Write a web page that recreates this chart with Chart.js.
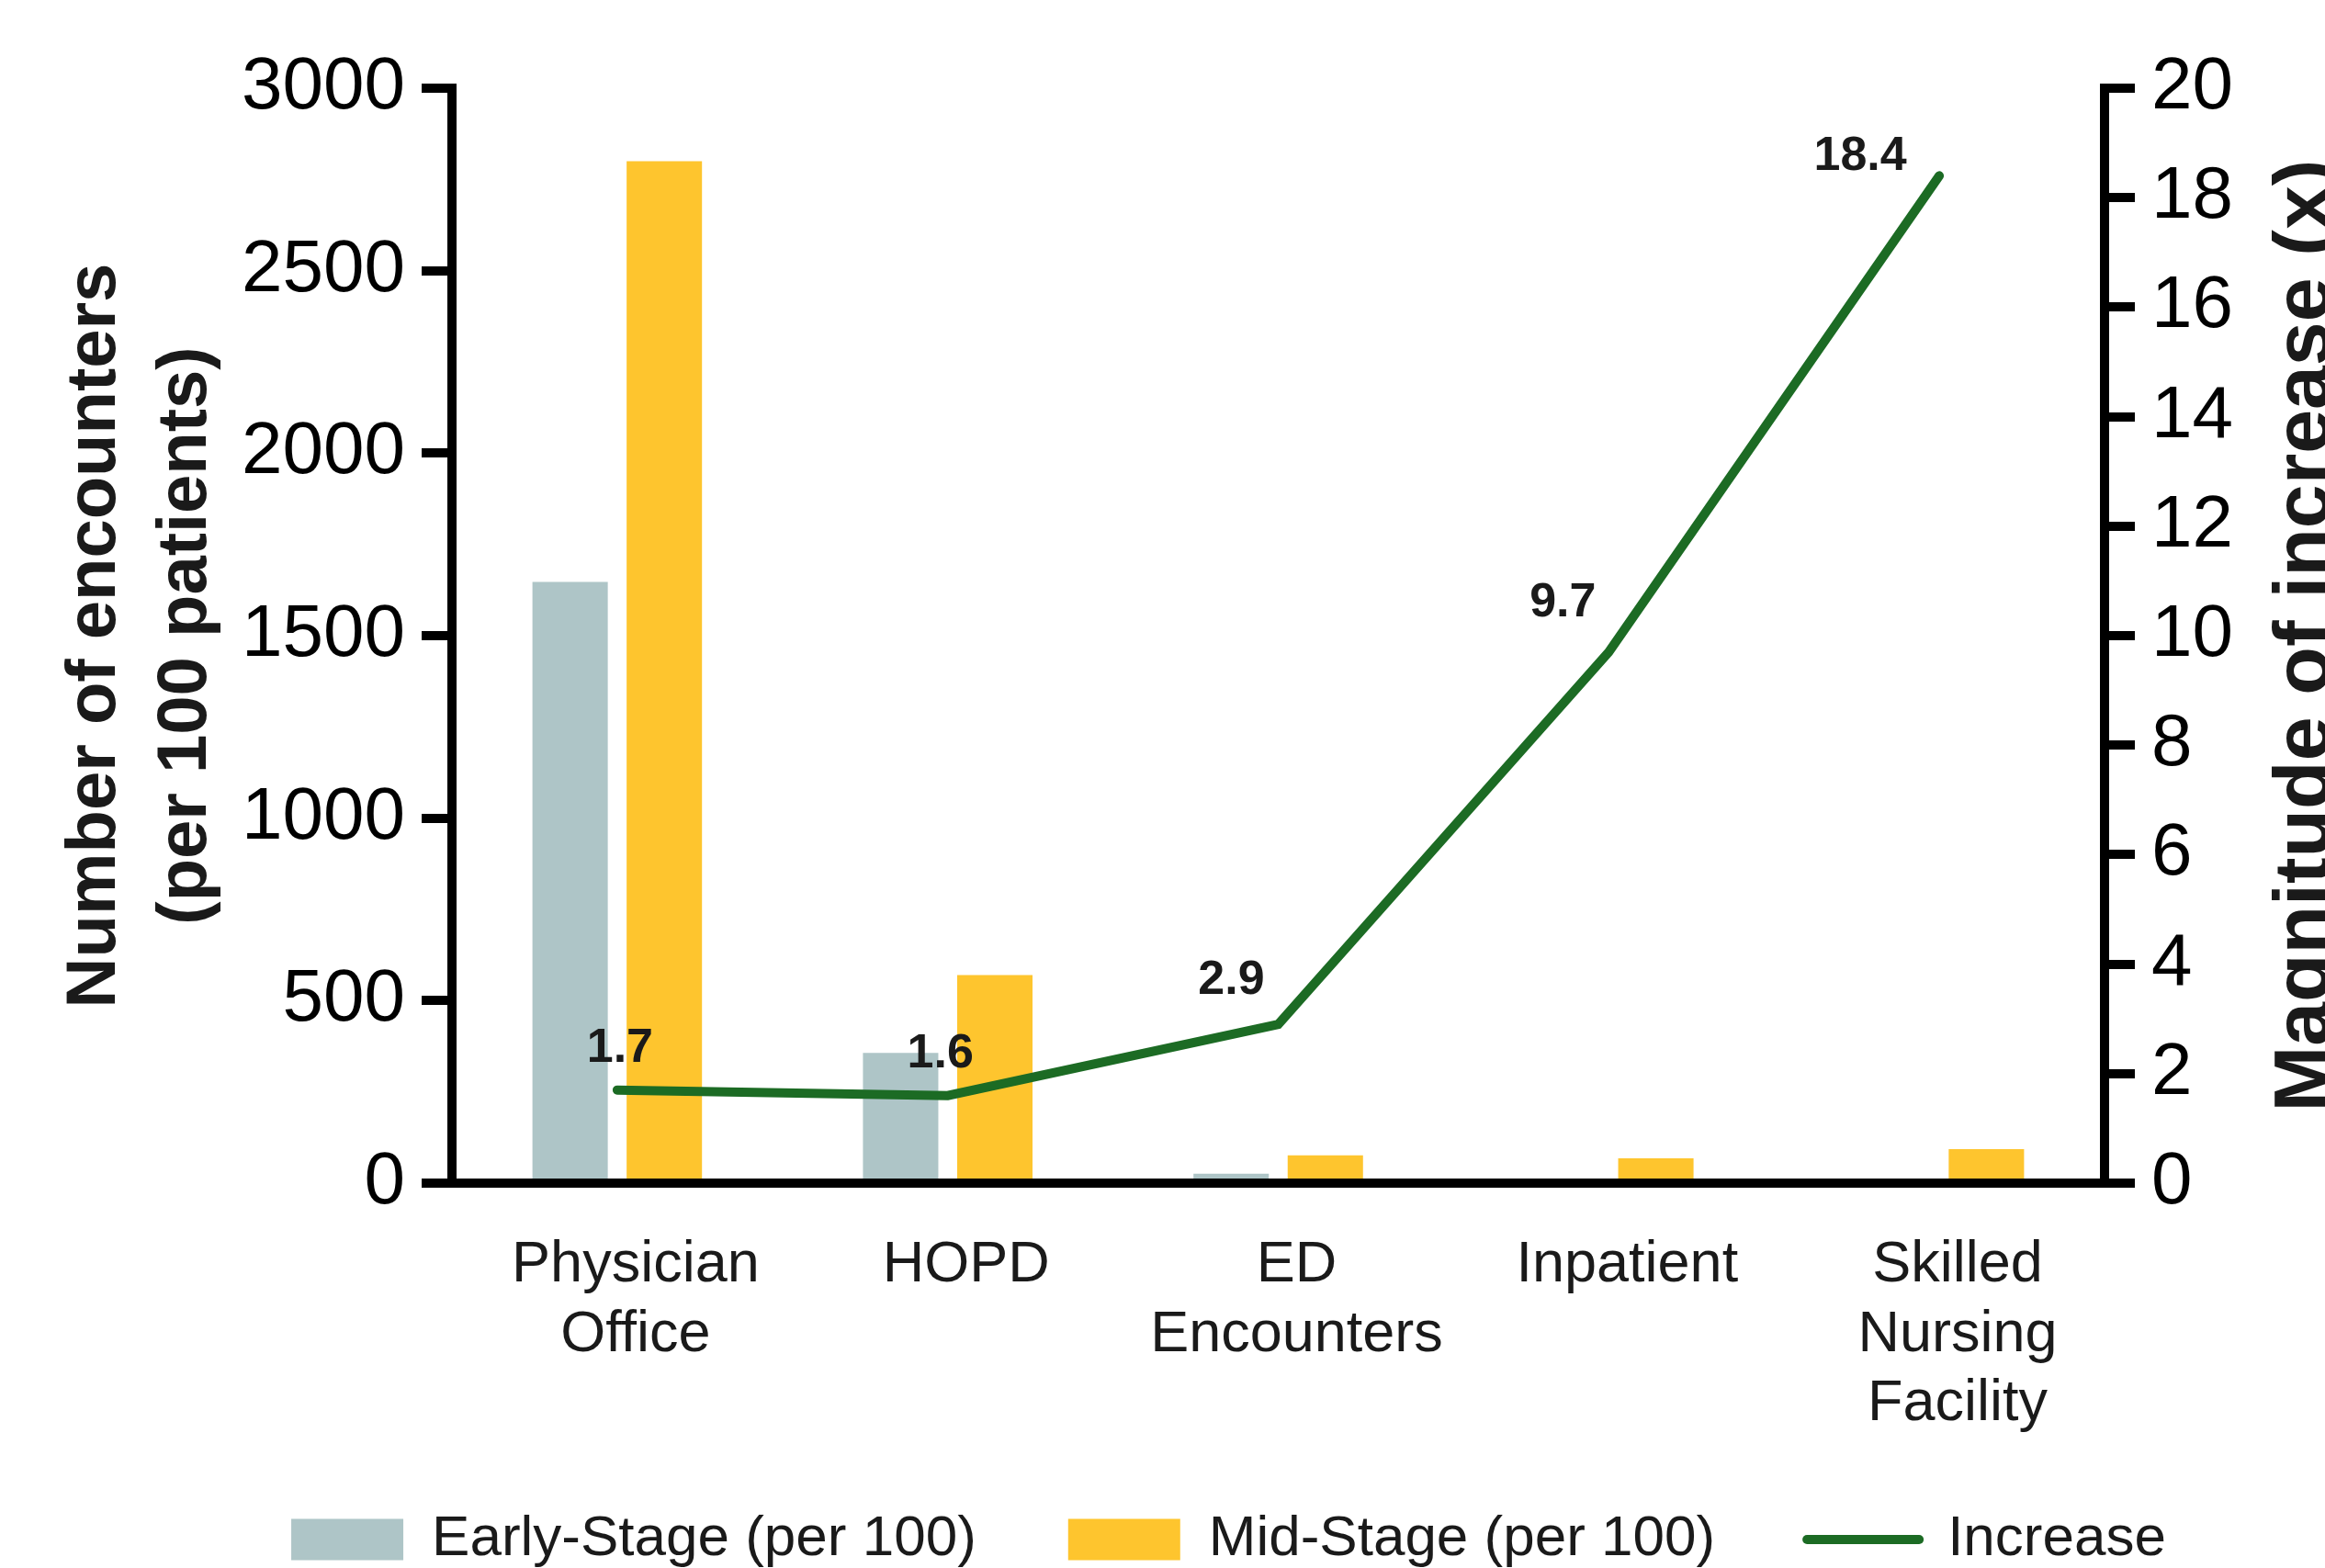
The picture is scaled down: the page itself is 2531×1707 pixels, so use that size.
<!DOCTYPE html>
<html>
<head>
<meta charset="utf-8">
<script src="https://cdn.jsdelivr.net/npm/chart.js@4.4.1/dist/chart.umd.min.js"></script>
<style>
html,body{margin:0;padding:0;background:#fff;overflow:hidden}
#wrap{width:2531px;height:1707px;position:relative}
</style>
</head>
<body>
<div id="wrap"><canvas id="c" width="2531" height="1707"></canvas></div>
<script>
// ---- data ----
const categories = [['Physician', 'Office'], ['HOPD'], ['ED', 'Encounters'], ['Inpatient'], ['Skilled', 'Nursing', 'Facility']];
const earlyStage = [1647, 357, 26, 7, 5];
const midStage = [2800, 570, 76, 68, 93];
const increase = [1.7, 1.6, 2.9, 9.7, 18.4];
const increaseLabels = ['1.7', '1.6', '2.9', '9.7', '18.4'];
const seriesNames = ['Early-Stage (per 100)', 'Mid-Stage (per 100)', 'Increase'];
const leftTitle = ['Number of encounters', '(per 100 patients)'];
const rightTitle = 'Magnitude of increase (x)';

// ---- styles ----
const COL_EARLY = '#AEC5C7';
const COL_MID = '#FEC52E';
const COL_LINE = '#1C6B24';
const FONT = '"Liberation Sans", Arial, sans-serif';
const labelDx = [3, -8, -51, -50, -86];
const labelDy = [-45, -45, -48, -53, -21];

Chart.defaults.font.family = FONT;

const axisTitles = {
  id: 'axisTitles',
  afterDraw(chart) {
    const ctx = chart.ctx, a = chart.chartArea;
    const cy = (a.top + a.bottom) / 2;
    ctx.save();
    ctx.fillStyle = '#1a1a1a';
    ctx.textAlign = 'center';
    ctx.textBaseline = 'alphabetic';
    ctx.font = 'bold 76px ' + FONT;
    [125, 224].forEach((bx, i) => {
      ctx.save();
      ctx.translate(bx, cy);
      ctx.rotate(-Math.PI / 2);
      ctx.fillText(leftTitle[i], 0, 0);
      ctx.restore();
    });
    ctx.font = 'bold 86px ' + FONT;
    ctx.save();
    ctx.translate(2535, cy);
    ctx.rotate(-Math.PI / 2);
    ctx.fillText(rightTitle, 0, 0);
    ctx.restore();
    ctx.restore();
  }
};

const pointLabels = {
  id: 'pointLabels',
  afterDatasetsDraw(chart) {
    const ctx = chart.ctx;
    const meta = chart.getDatasetMeta(2);
    ctx.save();
    ctx.fillStyle = '#1a1a1a';
    ctx.font = 'bold 52px ' + FONT;
    ctx.textAlign = 'center';
    ctx.textBaseline = 'middle';
    meta.data.forEach((pt, i) => {
      ctx.fillText(increaseLabels[i], pt.x + labelDx[i], pt.y + labelDy[i]);
    });
    ctx.restore();
  }
};

const legendShift = {
  id: 'legendShift',
  afterLayout(chart) {
    const l = chart.legend;
    if (!l) return;
    l.left += 72; l.right += 72;
    l.top += 10; l.bottom += 10;
  }
};

const tickFont = { family: FONT, size: 80 };
const plainNum = (v) => String(v);

new Chart(document.getElementById('c'), {
  type: 'bar',
  data: {
    labels: categories,
    datasets: [
      { label: seriesNames[0], data: earlyStage, backgroundColor: COL_EARLY, borderWidth: 0, yAxisID: 'y', order: 1,
        categoryPercentage: 0.57, barPercentage: 0.8 },
      { label: seriesNames[1], data: midStage, backgroundColor: COL_MID, borderWidth: 0, yAxisID: 'y', order: 1,
        categoryPercentage: 0.57, barPercentage: 0.8 },
      { type: 'line', label: seriesNames[2], data: increase, yAxisID: 'y1', order: 0,
        borderColor: COL_LINE, backgroundColor: COL_LINE, borderWidth: 10, pointRadius: 0, tension: 0,
        borderCapStyle: 'round', borderJoinStyle: 'miter', fill: false }
    ]
  },
  options: {
    responsive: false,
    animation: false,
    devicePixelRatio: 1,
    layout: { padding: { top: 96, left: 0, right: 0, bottom: 0 } },
    plugins: {
      tooltip: { enabled: false },
      legend: {
        position: 'bottom',
        labels: {
          usePointStyle: true,
          pointStyleWidth: 122,
          boxHeight: 45,
          padding: 100,
          color: '#1a1a1a',
          font: { family: FONT, size: 62 },
          sort: (a, b) => a.datasetIndex - b.datasetIndex,
          generateLabels(chart) {
            const items = Chart.defaults.plugins.legend.labels.generateLabels(chart);
            items.forEach(it => {
              const ds = chart.data.datasets[it.datasetIndex];
              if (ds.type === 'line') {
                it.pointStyle = 'line'; it.lineWidth = 10; it.strokeStyle = COL_LINE; it.lineCap = 'round';
              } else {
                it.pointStyle = 'rect'; it.lineWidth = 0;
              }
            });
            return items;
          }
        }
      }
    },
    scales: {
      x: {
        type: 'category', offset: true,
        grid: { display: false },
        border: { display: true, color: '#000', width: 10, z: 1 },
        ticks: { color: '#1a1a1a', font: { family: FONT, size: 63, lineHeight: 1.2 }, padding: 44, labelOffset: 20,
                 maxRotation: 0, autoSkip: false },
        afterFit(s) { s.height = 247; s._computeLabelArea = () => null; }
      },
      y: {
        position: 'left', min: 0, max: 3000,
        ticks: { stepSize: 500, color: '#000', font: tickFont, padding: 18, callback: plainNum },
        grid: { drawOnChartArea: false, tickLength: 33, tickWidth: 10, lineWidth: 10, color: '#000', tickColor: '#000', z: 1 },
        border: { color: '#000', width: 10, z: 1 },
        afterFit(s) { s.width = 492; }
      },
      y1: {
        position: 'right', min: 0, max: 20,
        ticks: { stepSize: 2, color: '#000', font: tickFont, padding: 18, callback: plainNum },
        grid: { drawOnChartArea: false, tickLength: 33, tickWidth: 10, lineWidth: 10, color: '#000', tickColor: '#000', z: 1 },
        border: { color: '#000', width: 10, z: 1 },
        afterFit(s) { s.width = 240; }
      }
    }
  },
  plugins: [axisTitles, pointLabels, legendShift]
});
</script>
</body>
</html>
